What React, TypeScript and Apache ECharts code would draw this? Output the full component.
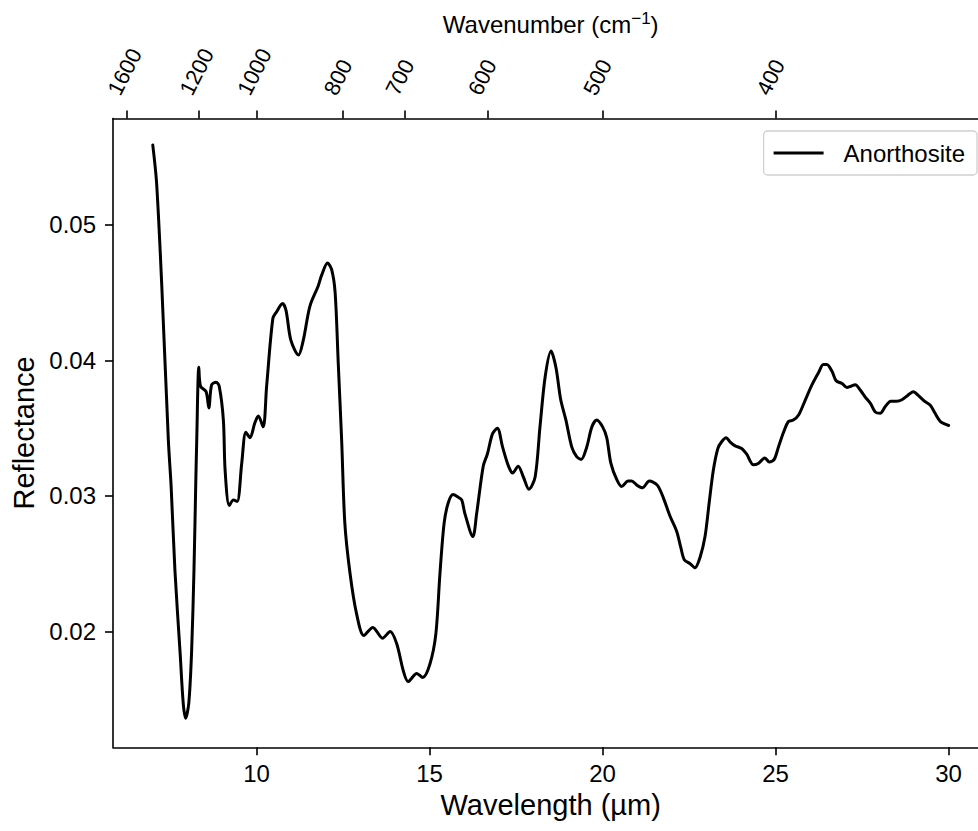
import React, { useEffect, useRef } from "react";
import * as echarts from "echarts";

const WAVELENGTH = [
  7.0, 7.11, 7.26, 7.45, 7.53, 7.64, 7.79, 7.88, 7.95, 8.04, 8.12, 8.19, 8.24, 8.27, 8.33, 8.38, 8.54, 8.62, 8.7, 8.83,
  8.92, 9.04, 9.09, 9.21, 9.33, 9.44, 9.57, 9.69, 9.81, 9.95, 10.05, 10.19, 10.29, 10.47, 10.58, 10.75, 10.85, 10.99,
  11.21, 11.35, 11.54, 11.78, 11.88, 12.05, 12.17, 12.27, 12.36, 12.46, 12.55, 12.7, 12.89, 13.1, 13.36, 13.64, 13.86,
  14.05, 14.24, 14.38, 14.63, 14.8, 15.01, 15.18, 15.3, 15.42, 15.54, 15.68, 15.83, 15.93, 16.02, 16.25, 16.36, 16.55,
  16.67, 16.82, 16.96, 17.11, 17.28, 17.4, 17.56, 17.71, 17.87, 18.05, 18.19, 18.34, 18.51, 18.65, 18.79, 18.94, 19.11,
  19.25, 19.38, 19.54, 19.69, 19.83, 20.0, 20.12, 20.24, 20.41, 20.55, 20.74, 20.84, 20.99, 21.15, 21.35, 21.58, 21.75,
  21.95, 22.14, 22.26, 22.36, 22.53, 22.67, 22.82, 22.96, 23.08, 23.2, 23.33, 23.44, 23.57, 23.68, 23.83, 24.02, 24.16,
  24.36, 24.5, 24.69, 24.82, 24.96, 25.08, 25.23, 25.37, 25.51, 25.67, 25.86, 26.05, 26.24, 26.38, 26.48, 26.63, 26.75,
  26.92, 27.06, 27.18, 27.3, 27.45, 27.59, 27.75, 27.88, 28.02, 28.17, 28.33, 28.5, 28.65, 28.81, 28.98, 29.13, 29.3,
  29.47, 29.61, 29.76, 29.9, 30.0,
];

const REFLECTANCE = [
  0.0559, 0.0531, 0.0455, 0.0341, 0.0307, 0.0245, 0.0184, 0.0147, 0.0136, 0.0147, 0.0184, 0.0245, 0.0307, 0.0341,
  0.0395, 0.0381, 0.0377, 0.0365, 0.0382, 0.0384, 0.0381, 0.0356, 0.0319, 0.0293, 0.0297, 0.0296, 0.0324, 0.0347,
  0.0343, 0.0354, 0.0359, 0.0351, 0.0381, 0.0431, 0.0436, 0.0442, 0.0437, 0.0415, 0.0404, 0.0415, 0.044, 0.0455,
  0.0463, 0.0472, 0.0467, 0.045, 0.0398, 0.034, 0.028, 0.0243, 0.0213, 0.0197, 0.0203, 0.0195, 0.02, 0.0191, 0.0171,
  0.0163, 0.0169, 0.0166, 0.0176, 0.0198, 0.0243, 0.028, 0.0295, 0.0301, 0.0299, 0.0297, 0.0287, 0.027, 0.0287,
  0.0322, 0.0331, 0.0346, 0.035, 0.0336, 0.0322, 0.0317, 0.0322, 0.0314, 0.0305, 0.0314, 0.0351, 0.0388, 0.0407,
  0.0395, 0.0371, 0.0356, 0.0336, 0.0329, 0.0327, 0.0336, 0.0351, 0.0356, 0.0351, 0.0343, 0.0324, 0.0312, 0.0307,
  0.0311, 0.0311, 0.0308, 0.0306, 0.0311, 0.0308, 0.0299, 0.0285, 0.0274, 0.0262, 0.0253, 0.025, 0.0247, 0.0255,
  0.027, 0.0295, 0.0319, 0.0335, 0.034, 0.0343, 0.034, 0.0337, 0.0335, 0.0331, 0.0323, 0.0324, 0.0328, 0.0325,
  0.0327, 0.0336, 0.0347, 0.0355, 0.0356, 0.036, 0.0371, 0.0382, 0.0391, 0.0397, 0.0397, 0.0392, 0.0385, 0.0383,
  0.038, 0.0381, 0.0382, 0.0378, 0.0373, 0.0368, 0.0362, 0.0361, 0.0366, 0.037, 0.037, 0.0371, 0.0374, 0.0377,
  0.0374, 0.037, 0.0367, 0.0361, 0.0355, 0.0353, 0.0352,
];

const X_TICKS = [10, 15, 20, 25, 30];
const Y_TICKS = [0.02, 0.03, 0.04, 0.05];
const WAVENUMBER_TICKS = [1600, 1200, 1000, 800, 700, 600, 500, 400];
const SERIES_NAME = "Anorthosite";

const FONT = "'Liberation Sans', Arial, Helvetica, sans-serif";

export default function App() {
  const ref = useRef<HTMLDivElement>(null);

  useEffect(() => {
    if (!ref.current) return;
    const chart = echarts.init(ref.current, undefined, { renderer: "svg" });
    const data = WAVELENGTH.map((x, i) => [x, REFLECTANCE[i]]);
    const topPos = WAVENUMBER_TICKS.map((w) => 10000 / w);
    const xMin = 5.85;
    const xMax = 31.15;

    chart.setOption({
      animation: false,
      backgroundColor: "#ffffff",
      textStyle: { fontFamily: FONT, color: "#000" },
      grid: { left: 113, right: 11.6, top: 118.5, bottom: 83.7, containLabel: false },
      legend: {
        data: [{ name: SERIES_NAME, icon: "rect" }],
        right: 23,
        top: 131,
        orient: "vertical",
        itemWidth: 50,
        itemHeight: 3,
        padding: [10, 12, 10, 10],
        backgroundColor: "rgba(255,255,255,0.8)",
        borderColor: "#d0d0d0",
        borderWidth: 1.3,
        borderRadius: 4,
        itemStyle: { color: "#000", borderWidth: 0 },
        textStyle: { fontSize: 24, fontFamily: FONT, color: "#000", padding: [0, 0, 0, 15] },
      },
      xAxis: [
        {
          type: "value",
          min: xMin,
          max: xMax,
          position: "bottom",
          name: "Wavelength (µm)",
          nameLocation: "middle",
          nameGap: 42,
          nameTextStyle: { fontSize: 29, fontFamily: FONT, color: "#000" },
          axisLine: { show: true, onZero: false, lineStyle: { color: "#000", width: 1.6 } },
          axisTick: { show: true, length: 8, customValues: X_TICKS, lineStyle: { color: "#000", width: 1.6 } },
          axisLabel: {
            customValues: X_TICKS,
            fontSize: 24,
            fontFamily: FONT,
            color: "#000",
            margin: 14,
            formatter: (v: number) => String(v),
          },
          splitLine: { show: false },
        },
        {
          type: "value",
          min: xMin,
          max: xMax,
          position: "top",
          name: "Wavenumber (cm{sup|−1})",
          nameLocation: "middle",
          nameGap: 79,
          nameTextStyle: {
            fontSize: 24,
            fontFamily: FONT,
            color: "#000",
            lineHeight: 30,
            rich: { sup: { fontSize: 17, fontFamily: FONT, color: "#000", verticalAlign: "top", lineHeight: 17 } },
          },
          axisLine: { show: true, onZero: false, lineStyle: { color: "#000", width: 1.6 } },
          axisTick: { show: true, length: 8, customValues: topPos, lineStyle: { color: "#000", width: 1.6 } },
          axisLabel: { show: false },
          splitLine: { show: false },
        },
      ],
      yAxis: {
        type: "value",
        min: 0.01145,
        max: 0.05786,
        name: "Reflectance",
        nameLocation: "middle",
        nameGap: 68,
        nameTextStyle: { fontSize: 29, fontFamily: FONT, color: "#000" },
        axisLine: { show: true, onZero: false, lineStyle: { color: "#000", width: 1.6 } },
        axisTick: { show: true, length: 8, customValues: Y_TICKS, lineStyle: { color: "#000", width: 1.6 } },
        axisLabel: {
          customValues: Y_TICKS,
          fontSize: 24,
          fontFamily: FONT,
          color: "#000",
          margin: 17,
          formatter: (v: number) => v.toFixed(2),
        },
        splitLine: { show: false },
      },
      series: [
        {
          name: SERIES_NAME,
          type: "line",
          xAxisIndex: 0,
          data,
          symbol: "none",
          smooth: 0.3,
          lineStyle: { color: "#000", width: 3, join: "round", cap: "round" },
          itemStyle: { color: "#000" },
        },
      ],
    });

    const graphic = WAVENUMBER_TICKS.map((w, i) => {
      const px = chart.convertToPixel({ xAxisIndex: 1 }, topPos[i]) as number;
      return {
        type: "text",
        x: px - 3.5,
        y: 98.5,
        rotation: (63 * Math.PI) / 180,
        style: {
          text: String(w),
          fontSize: 22,
          fontFamily: FONT,
          fill: "#000",
          align: "left",
          verticalAlign: "bottom",
        },
      };
    });
    chart.setOption({ graphic });

    return () => chart.dispose();
  }, []);

  return (
    <div
      style={{
        position: "fixed",
        left: 0,
        top: 0,
        width: 978,
        height: 831,
        overflow: "hidden",
        background: "#fff",
      }}
    >
      <div ref={ref} style={{ width: 1000, height: 831 }} />
    </div>
  );
}
